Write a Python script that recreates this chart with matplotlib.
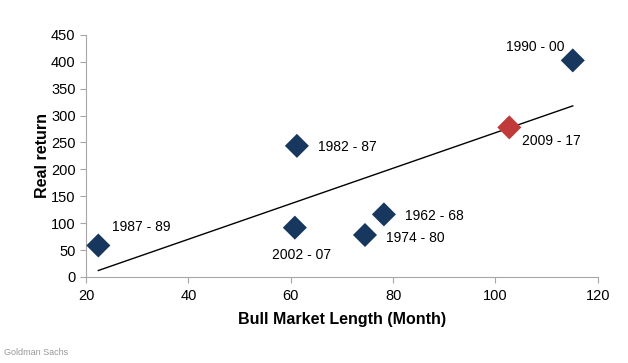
import matplotlib
matplotlib.use("Agg")
import matplotlib.pyplot as plt

plt.rcParams['font.family'] = ['Liberation Sans', 'DejaVu Sans']

labels = ["1987 - 89", "2002 - 07", "1982 - 87", "1974 - 80", "1962 - 68", "2009 - 17", "1990 - 00"]
months = [22.4, 60.8, 61.2, 74.5, 78.2, 102.7, 115.1]
real_return = [58.5, 91.7, 243.7, 78, 116.3, 278, 402.5]
colors = ["#17375E", "#17375E", "#17375E", "#17375E", "#17375E", "#C0393B", "#17375E"]
trend_x = [22.4, 115.1]
trend_y = [12, 318]

label_offsets = {
    "1987 - 89": (10, 13, "left"),
    "2002 - 07": (5, -20, "center"),
    "1982 - 87": (15, -1, "left"),
    "1974 - 80": (15, -2, "left"),
    "1962 - 68": (15, -1, "left"),
    "2009 - 17": (9, -10, "left"),
    "1990 - 00": (-6, 10, "right"),
}

fig = plt.figure(figsize=(6.28, 3.63), dpi=100)
ax = fig.add_axes([0.137, 0.237, 0.815, 0.667])

ax.plot(trend_x, trend_y, color="black", lw=1.0, zorder=2)
for x, y, c, lab in zip(months, real_return, colors, labels):
    ax.scatter([x], [y], marker="D", s=150, color=c, edgecolors="none", zorder=3)
    dx, dy, ha = label_offsets[lab]
    ax.annotate(lab, (x, y), xytext=(dx, dy), textcoords="offset points",
                ha=ha, va="center", fontsize=10, color="black")

ax.set_xlim(20, 120)
ax.set_ylim(0, 450)
ax.set_xticks([20, 40, 60, 80, 100, 120])
ax.set_yticks(range(0, 451, 50))
for s in ["top", "right"]:
    ax.spines[s].set_visible(False)
for s in ["left", "bottom"]:
    ax.spines[s].set_color("#A6A6A6")
ax.tick_params(axis="both", colors="#A6A6A6", labelcolor="black", labelsize=10.5,
               direction="out", length=4, width=0.8)
ax.tick_params(axis="x", pad=5)
ax.set_xlabel("Bull Market Length (Month)", fontsize=11.5, fontweight="bold", labelpad=6)
ax.set_ylabel("Real return", fontsize=11.5, fontweight="bold", labelpad=1)

fig.text(0.006, 0.022, "Goldman Sachs", fontsize=6.5, color="#999999")

fig.savefig("out.png", dpi=100)
